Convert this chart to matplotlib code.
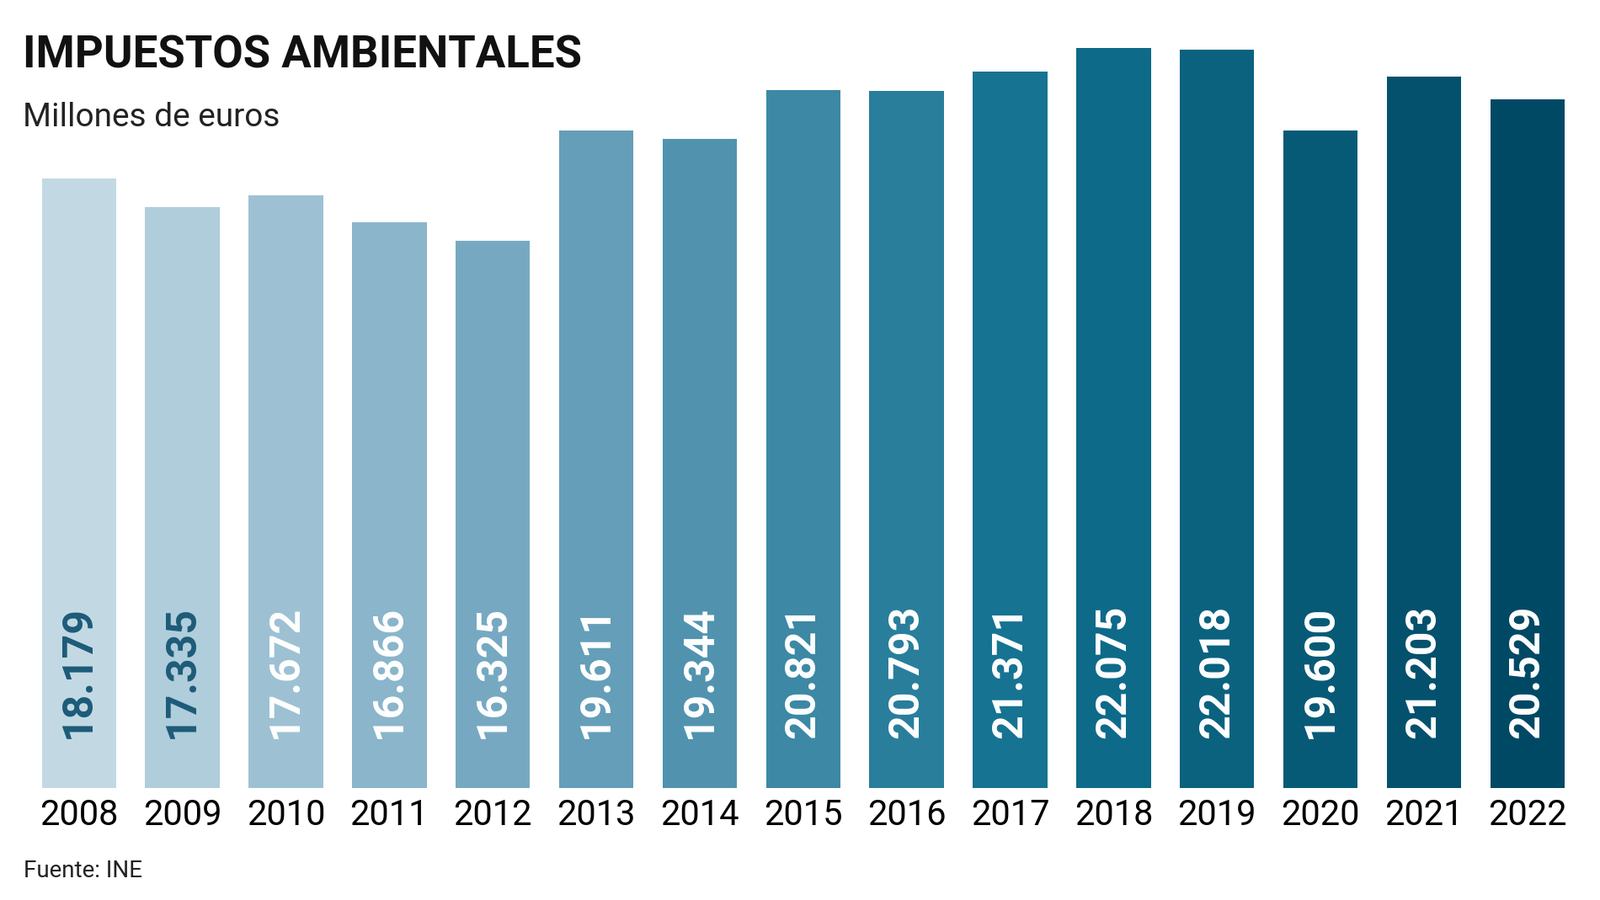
import matplotlib
matplotlib.use("Agg")
import matplotlib.pyplot as plt
import numpy as np
from matplotlib.colors import LinearSegmentedColormap

years = ["2008","2009","2010","2011","2012","2013","2014","2015","2016","2017","2018","2019","2020","2021","2022"]
values = [18179,17335,17672,16866,16325,19611,19344,20821,20793,21371,22075,22018,19600,21203,20529]
labels = ["18.179","17.335","17.672","16.866","16.325","19.611","19.344","20.821","20.793","21.371","22.075","22.018","19.600","21.203","20.529"]

fig = plt.figure(figsize=(19, 10.69), dpi=100)
ax = fig.add_axes([0.017, 0.124, 0.970, 0.823])
cmap = LinearSegmentedColormap.from_list("c", ["#c2d9e4", "#6aa1bb", "#10708f", "#004964"])
cols = [cmap(i / (len(years) - 1)) for i in range(len(years))]
x = np.arange(len(years))
ax.bar(x, values, width=0.72, color=cols)
for i, (v, l) in enumerate(zip(values, labels)):
    ax.text(i, 600 * 2.5 if False else 1500, l, rotation=90, ha="center", va="bottom",
            fontsize=36, fontweight="bold", color="#1d5b78" if i < 2 else "white", family="Roboto")
ax.set_xlim(-0.5, len(years) - 0.5)
ax.set_ylim(0, 22075)
ax.set_xticks(x)
ax.set_xticklabels(years, fontsize=30, family="Roboto")
ax.tick_params(length=0, pad=8)
ax.set_yticks([])
for s in ax.spines.values():
    s.set_visible(False)
fig.text(0.014, 0.925, "IMPUESTOS AMBIENTALES", fontsize=38, fontweight="bold", family="Roboto", color="#111111")
fig.text(0.014, 0.86, "Millones de euros", fontsize=28, family="Roboto", color="#222222")
fig.text(0.015, 0.025, "Fuente: INE", fontsize=20, family="Roboto", color="#222222")
fig.savefig("out.png", dpi=100, facecolor="white")
